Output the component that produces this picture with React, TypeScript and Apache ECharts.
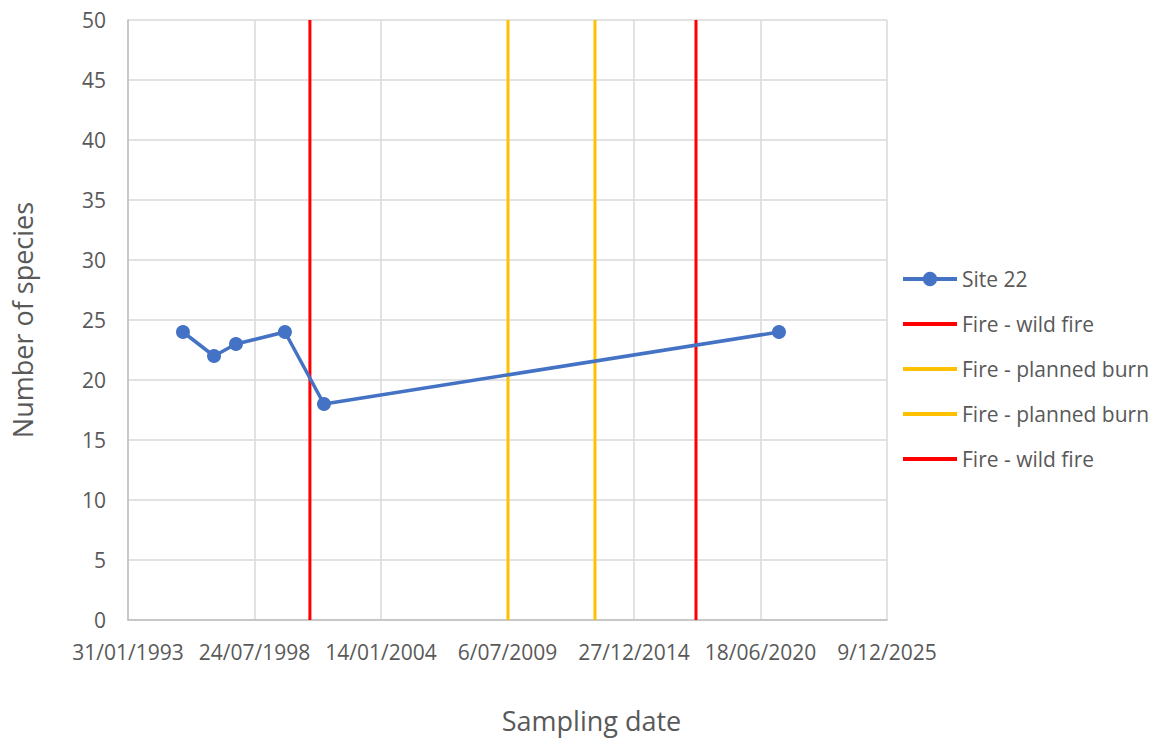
import React, { useEffect, useRef } from "react";
import * as echarts from "echarts";

// Survey results for Site 22
const sampleDates = ["1995-06-19", "1996-10-22", "1997-10-04", "1999-11-17", "2001-07-26", "2021-04-06"];
const speciesCounts = [24, 22, 23, 24, 18, 24];

// Fire events (vertical markers)
const fireNames = ["Fire - wild fire", "Fire - planned burn", "Fire - planned burn", "Fire - wild fire"];
const fireDates = ["2000-12-16", "2009-07-14", "2013-04-19", "2017-09-02"];
const fireColors = ["#FF0000", "#FFC000", "#FFC000", "#FF0000"];

// Axis settings (days in spreadsheet serial numbering)
const xMin = 34000;
const xMax = 46000;
const xStep = 2000;
const yMin = 0;
const yMax = 50;
const yStep = 5;

const EPOCH = Date.UTC(1899, 11, 30);
const DAY = 86400000;

function toSerial(iso: string): number {
  const [y, m, d] = iso.split("-").map(Number);
  return Math.round((Date.UTC(y, m - 1, d) - EPOCH) / DAY);
}

function serialLabel(v: number): string {
  const dt = new Date(EPOCH + v * DAY);
  const d = dt.getUTCDate();
  const m = dt.getUTCMonth() + 1;
  return `${d}/${m < 10 ? "0" + m : m}/${dt.getUTCFullYear()}`;
}

const FONT = "'Open Sans', 'Noto Sans', sans-serif";
const TEXT = "#595959";

export default function App() {
  const ref = useRef<HTMLDivElement>(null);

  useEffect(() => {
    if (!ref.current) return;
    const chart = echarts.init(ref.current, undefined, { renderer: "svg" });

    const siteName = "Site 22";
    const siteColor = "#4472C4";
    const fireIds = fireNames.map((_, i) => `fire${i}`);
    const labelMap: Record<string, string> = { [siteName]: siteName };
    fireIds.forEach((id, i) => (labelMap[id] = fireNames[i]));

    const series: any[] = [
      {
        name: siteName,
        type: "line",
        data: sampleDates.map((d, i) => [toSerial(d), speciesCounts[i]]),
        symbol: "circle",
        symbolSize: 14,
        lineStyle: { width: 3.5, color: siteColor },
        itemStyle: { color: siteColor },
        z: 5,
      },
      ...fireDates.map((d, i) => ({
        name: fireIds[i],
        type: "line",
        data: [
          [toSerial(d), yMin],
          [toSerial(d), yMax],
        ],
        symbol: "none",
        lineStyle: { width: 3, color: fireColors[i] },
        itemStyle: { color: fireColors[i] },
        z: 3,
      })),
    ];

    chart.setOption({
      animation: false,
      grid: { left: 128, right: 269, top: 20, bottom: 122, containLabel: false },
      legend: {
        orient: "vertical",
        left: 901,
        top: 267,
        padding: 0,
        itemWidth: 54,
        itemHeight: 18,
        itemGap: 21,
        lineStyle: { width: 4 },
        data: [
          { name: siteName },
          ...fireIds.map((id) => ({ name: id, itemStyle: { opacity: 0 } })),
        ],
        formatter: (n: string) => labelMap[n] ?? n,
        textStyle: { fontFamily: FONT, fontSize: 21, color: TEXT, lineHeight: 24, padding: [0, 0, 0, 0] },
      },
      xAxis: {
        type: "value",
        min: xMin,
        max: xMax,
        interval: xStep,
        name: "Sampling date",
        nameLocation: "middle",
        nameGap: 87,
        nameTextStyle: { fontFamily: FONT, fontSize: 27, color: TEXT, padding: [0, 0, 0, 168] },
        axisLine: { show: true, onZero: false, lineStyle: { color: "#BFBFBF", width: 1.5 } },
        axisTick: { show: false },
        axisLabel: {
          formatter: (v: number) => serialLabel(v),
          fontFamily: FONT,
          fontSize: 21,
          color: TEXT,
          margin: 21,
          showMinLabel: true,
          showMaxLabel: true,
        },
        splitLine: { show: true, lineStyle: { color: "#D9D9D9", width: 1.5 } },
      },
      yAxis: {
        type: "value",
        min: yMin,
        max: yMax,
        interval: yStep,
        name: "Number of species",
        nameLocation: "middle",
        nameGap: 92,
        nameTextStyle: { fontFamily: FONT, fontSize: 27, color: TEXT },
        axisLine: { show: true, lineStyle: { color: "#BFBFBF", width: 1.5 } },
        axisTick: { show: false },
        axisLabel: { fontFamily: FONT, fontSize: 21, color: TEXT, margin: 22 },
        splitLine: { show: true, lineStyle: { color: "#D9D9D9", width: 1.5 } },
      },
      series,
    });

    return () => chart.dispose();
  }, []);

  return (
    <div
      ref={ref}
      style={{ position: "fixed", left: 0, top: 0, width: 1156, height: 742, background: "#fff" }}
    />
  );
}
